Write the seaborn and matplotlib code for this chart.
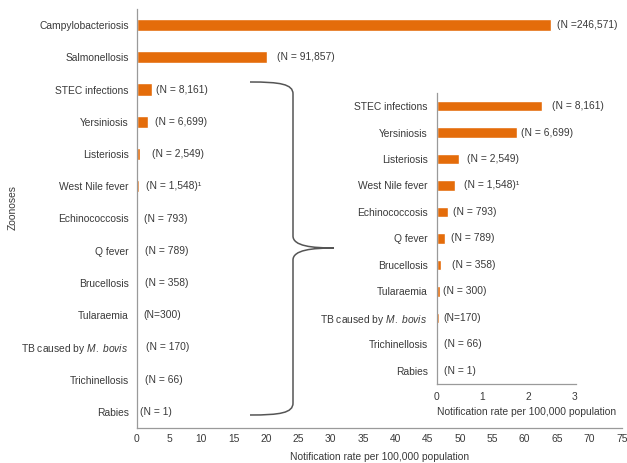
import pandas as pd
import seaborn as sns
import matplotlib.pyplot as plt
from matplotlib.path import Path
from matplotlib.patches import PathPatch

# data
diseases = ["Campylobacteriosis", "Salmonellosis", "STEC infections", "Yersiniosis",
            "Listeriosis", "West Nile fever", "Echinococcosis", "Q fever",
            "Brucellosis", "Tularaemia", r"TB caused by $\mathit{M.\ bovis}$",
            "Trichinellosis", "Rabies"]
rates = [64.1, 20.1, 2.29, 1.75, 0.49, 0.39, 0.24, 0.18, 0.10, 0.08, 0.04, 0.02, 0.0]
main_counts = ["(N =246,571)", "(N = 91,857)", "(N = 8,161)", "(N = 6,699)",
               "(N = 2,549)", "(N = 1,548)\u00b9", "(N = 793)", "(N = 789)",
               "(N = 358)", "(N=300)", "(N = 170)", "(N = 66)", "(N = 1)"]
inset_counts = ["(N = 8,161)", "(N = 6,699)", "(N = 2,549)", "(N = 1,548)\u00b9",
                "(N = 793)", "(N = 789)", "(N = 358)", "(N = 300)", "(N=170)",
                "(N = 66)", "(N = 1)"]

# label gaps after bar ends (pixels)
main_pad = [6, 10, 4, 7, 12, 7, 6, 7, 8, 6, 9, 8, 3]
inset_pad = [10, 4, 8, 9, 5, 6, 11, 3, 5, 6, 7]

df = pd.DataFrame({"disease": diseases, "rate": rates})
df_in = df.iloc[2:].reset_index(drop=True)

sns.set_theme(style="white")
plt.rcParams["font.family"] = ["Liberation Sans", "DejaVu Sans"]
plt.rcParams["mathtext.fontset"] = "custom"
plt.rcParams["mathtext.rm"] = "Liberation Sans"
plt.rcParams["mathtext.it"] = "Liberation Sans:italic"

orange = "#E46C0A"
txt = "#3a3a3a"
spine = "#9a9a9a"
fs = 7.4

W, H = 627, 463
fig = plt.figure(figsize=(W / 100, H / 100), dpi=100)


def px_rect(x0, y0, x1, y1):
    return [x0 / W, 1 - y1 / H, (x1 - x0) / W, (y1 - y0) / H]


def style_axis(ax):
    sns.despine(ax=ax)
    for s in ("left", "bottom"):
        ax.spines[s].set_color(spine)
        ax.spines[s].set_linewidth(0.9)
    ax.tick_params(axis="y", length=0, labelsize=fs, labelcolor=txt)
    ax.tick_params(axis="x", length=3, direction="inout", color=spine,
                   labelsize=fs, labelcolor=txt)


# main chart
ax = fig.add_axes(px_rect(136.7, 9, 621.7, 428))
sns.barplot(data=df, x="rate", y="disease", orient="h", color=orange,
            saturation=1, width=0.38, ax=ax)
ax.set_xlim(0, 75)
ax.set_xticks(range(0, 80, 5))
style_axis(ax)
ax.tick_params(axis="y", pad=5.8)
ax.tick_params(axis="x", pad=2.5)
ax.set_xlabel("Notification rate per 100,000 population", fontsize=fs, color=txt, labelpad=6)
ax.set_ylabel("Zoonoses", fontsize=fs, color=txt)
ax.yaxis.set_label_coords(-0.245, 0.527)
for i, (v, lab) in enumerate(zip(rates, main_counts)):
    ax.annotate(lab, (v, i), xytext=(main_pad[i] * 0.72, 0), textcoords="offset points",
                va="center", ha="left", fontsize=fs, color=txt)

# inset for the smaller diseases
ax2 = fig.add_axes(px_rect(436.7, 92.8, 576.4, 384))
sns.barplot(data=df_in, x="rate", y="disease", orient="h", color=orange,
            saturation=1, width=0.4, ax=ax2)
ax2.set_xlim(0, 3.05)
ax2.set_xticks([0, 1, 2, 3])
style_axis(ax2)
ax2.tick_params(axis="y", pad=6.5)
ax2.tick_params(axis="x", pad=4)
ax2.set_ylabel("")
ax2.set_xlabel("Notification rate per 100,000 population", fontsize=fs, color=txt,
               labelpad=4, loc="left")
for i, (v, lab) in enumerate(zip(df_in["rate"], inset_counts)):
    ax2.annotate(lab, (v, i), xytext=(inset_pad[i] * 0.72, 0), textcoords="offset points",
                 va="center", ha="left", fontsize=fs, color=txt)

# curly brace linking the main chart to the inset
pts = [(250, 82), (280, 82), (293, 84), (293, 94),
       (293, 236),
       (293, 246), (312, 248), (334, 248),
       (312, 248), (293, 250), (293, 260),
       (293, 403),
       (293, 413), (280, 415), (250, 415)]
codes = [Path.MOVETO, Path.CURVE4, Path.CURVE4, Path.CURVE4,
         Path.LINETO,
         Path.CURVE4, Path.CURVE4, Path.CURVE4,
         Path.CURVE4, Path.CURVE4, Path.CURVE4,
         Path.LINETO,
         Path.CURVE4, Path.CURVE4, Path.CURVE4]
brace = Path([(x / W, 1 - y / H) for x, y in pts], codes)
fig.patches.append(PathPatch(brace, transform=fig.transFigure, fill=False,
                             edgecolor="#555555", linewidth=1.1))

fig.savefig("out.png", dpi=100)
